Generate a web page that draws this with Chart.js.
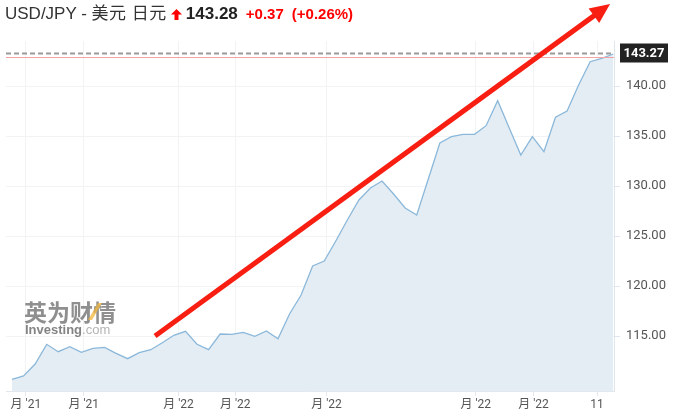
<!DOCTYPE html>
<html>
<head>
<meta charset="utf-8">
<script src="https://cdn.jsdelivr.net/npm/chart.js@4.4.0/dist/chart.umd.min.js"></script>
<style>
  body { margin: 0; background: #fff; }
  #wrap { position: relative; width: 676px; height: 420px; }
  #title {
    position: absolute; left: 5px; top: 3px; white-space: nowrap;
    font-family: "Liberation Sans", Arial, "Noto Sans CJK SC", sans-serif;
    font-size: 17px; line-height: 22px; color: #333;
  }
  #title .cn { letter-spacing: 0.5px; }
  #title .price { font-weight: bold; color: #222; margin-left: 4px; }
  #title .chg { font-weight: bold; color: #ff0000; font-size: 15px; margin-left: 8px; }
  #title svg { vertical-align: -1px; margin-left: 4px; }
</style>
</head>
<body>
<div id="wrap">
  <canvas id="fxChart"></canvas>
  <div id="title">USD/JPY - <span class="cn">美元 日元</span><svg width="11" height="11" viewBox="0 0 11 11"><path d="M5.5 0 L11 5.5 L7.5 5.5 L7.5 11 L3.5 11 L3.5 5.5 L0 5.5 Z" fill="#ff0000"/></svg><span class="price">143.28</span><span class="chg">+0.37</span><span class="chg">(+0.26%)</span></div>
</div>
<script>
// weekly closes
const closes = [
  110.67, 111.0, 112.2, 114.17, 113.43, 113.93, 113.37, 113.77, 113.87, 113.27,
  112.73, 113.33, 113.63, 114.33, 115.07, 115.47, 114.17, 113.63, 115.2, 115.17,
  115.37, 114.97, 115.5, 114.73, 117.2, 119.1, 122.0, 122.5, 124.5, 126.6,
  128.6, 129.8, 130.5, 129.2, 127.8, 127.1, 130.7, 134.3, 134.93, 135.17,
  135.17, 136.03, 138.53, 135.8, 133.1, 134.93, 133.43, 136.87, 137.5, 140.1,
  142.43, 142.77, 143.2
];
// x ticks sit between weeks (index units)
const xTickPos = [1.2, 6.2, 14.4, 19.3, 27.2, 40.1, 45.1, 50.6];
const xTickLabels = ["月 '21", "月 '21", "月 '22", "月 '22", "月 '22", "月 '22", "月 '22", "11"];
const yTicks = [115, 120, 125, 130, 135, 140];
const lastPrice = 143.27;
const prevClose = 142.91;
// hand-drawn trend arrow, in data units: [x, y] start and end
const arrowFrom = [12.37, 115.0];
const arrowTo = [51.72, 148.2];

const ctx = document.getElementById('fxChart').getContext('2d');

const overlays = {
  id: 'overlays',
  afterDatasetsDraw(chart) {
    const c = chart.ctx;
    const xs = chart.scales.x, ys = chart.scales.y;
    const area = chart.chartArea;

    // watermark
    c.save();
    c.globalAlpha = 0.75;
    c.fillStyle = '#6a6a6a';
    c.font = 'bold 23px "Noto Sans CJK SC"';
    c.textBaseline = 'alphabetic';
    c.fillText('英为财情', 24, 321);
    c.fillStyle = '#f2b53a';
    c.beginPath();
    c.moveTo(88, 320); c.lineTo(92, 320); c.lineTo(102, 303); c.lineTo(98, 303); c.closePath();
    c.fill();
    c.fillStyle = '#5a5a5a';
    c.font = 'bold 13px "Liberation Sans"';
    c.fillText('Investing', 25, 334);
    const w = c.measureText('Investing').width;
    c.fillStyle = '#9a9a9a';
    c.font = '13px "Liberation Sans"';
    c.fillText('.com', 25 + w, 334);
    c.restore();

    // previous close (thin red) and last price (dashed grey)
    c.save();
    const yPrev = Math.round(ys.getPixelForValue(prevClose)) + 0.5;
    c.strokeStyle = '#f3a3a3';
    c.lineWidth = 1;
    c.beginPath(); c.moveTo(area.left, yPrev); c.lineTo(area.right, yPrev); c.stroke();
    const yLast = Math.round(ys.getPixelForValue(lastPrice)) + 0.5;
    c.strokeStyle = '#9a9a9a';
    c.lineWidth = 2;
    c.setLineDash([5, 3]);
    c.beginPath(); c.moveTo(area.left, yLast); c.lineTo(area.right, yLast); c.stroke();
    c.setLineDash([]);

    // price tag
    c.fillStyle = '#222';
    c.fillRect(area.right + 6, yLast - 10, 48, 19);
    c.fillStyle = '#fff';
    c.font = 'bold 13px Roboto';
    c.textAlign = 'center';
    c.textBaseline = 'middle';
    c.fillText(lastPrice.toFixed(2), area.right + 30, yLast);
    c.restore();

    // red trend arrow
    const x0 = xs.getPixelForValue(arrowFrom[0]), y0 = ys.getPixelForValue(arrowFrom[1]);
    const x1 = xs.getPixelForValue(arrowTo[0]), y1 = ys.getPixelForValue(arrowTo[1]);
    const ang = Math.atan2(y1 - y0, x1 - x0);
    const headLen = 20, headHalf = 9;
    const bx = x1 - headLen * Math.cos(ang), by = y1 - headLen * Math.sin(ang);
    c.save();
    c.strokeStyle = '#f81e12';
    c.fillStyle = '#f81e12';
    c.lineWidth = 5;
    c.beginPath(); c.moveTo(x0, y0); c.lineTo(bx + 2 * Math.cos(ang), by + 2 * Math.sin(ang)); c.stroke();
    c.beginPath();
    c.moveTo(x1, y1);
    c.lineTo(bx + headHalf * Math.sin(ang), by - headHalf * Math.cos(ang));
    c.lineTo(bx - headHalf * Math.sin(ang), by + headHalf * Math.cos(ang));
    c.closePath();
    c.fill();
    c.restore();
  }
};

new Chart(ctx, {
  type: 'line',
  data: {
    datasets: [{
      data: closes.map((v, i) => ({ x: i, y: v })),
      borderColor: '#8bb8da',
      backgroundColor: '#e4edf4',
      borderWidth: 1.3,
      fill: 'start',
      pointRadius: 0,
      tension: 0
    }]
  },
  options: {
    responsive: true,
    maintainAspectRatio: false,
    animation: false,
    layout: { padding: { left: 6, top: 41, right: 0, bottom: 0 } },
    plugins: { legend: { display: false }, tooltip: { enabled: false } },
    scales: {
      x: {
        type: 'linear',
        min: -0.52,
        max: 52.06,
        afterBuildTicks: s => { s.ticks = xTickPos.map(v => ({ value: v })); },
        afterFit: s => { s.height = 29; },
        grid: { color: '#f1f3f5', tickLength: 5, drawTicks: true, tickColor: '#e3e8ee' },
        border: { color: '#e3e8ee' },
        ticks: {
          autoSkip: false,
          maxRotation: 0,
          padding: 2,
          color: '#555',
          font: { family: 'Roboto, "Noto Sans CJK SC"', size: 12 },
          callback: (v, i) => xTickLabels[i]
        }
      },
      y: {
        position: 'right',
        min: 109.5,
        max: 144.5,
        afterBuildTicks: s => { s.ticks = yTicks.map(v => ({ value: v })); },
        afterFit: s => { s.width = 62; },
        grid: { color: '#f1f3f5', tickLength: 6, tickColor: '#dfe5ec' },
        border: { color: '#dfe5ec' },
        ticks: {
          padding: 6,
          color: '#555',
          font: { family: 'Roboto', size: 13 },
          callback: v => v.toFixed(2)
        }
      }
    }
  },
  plugins: [overlays]
});
</script>
</body>
</html>
